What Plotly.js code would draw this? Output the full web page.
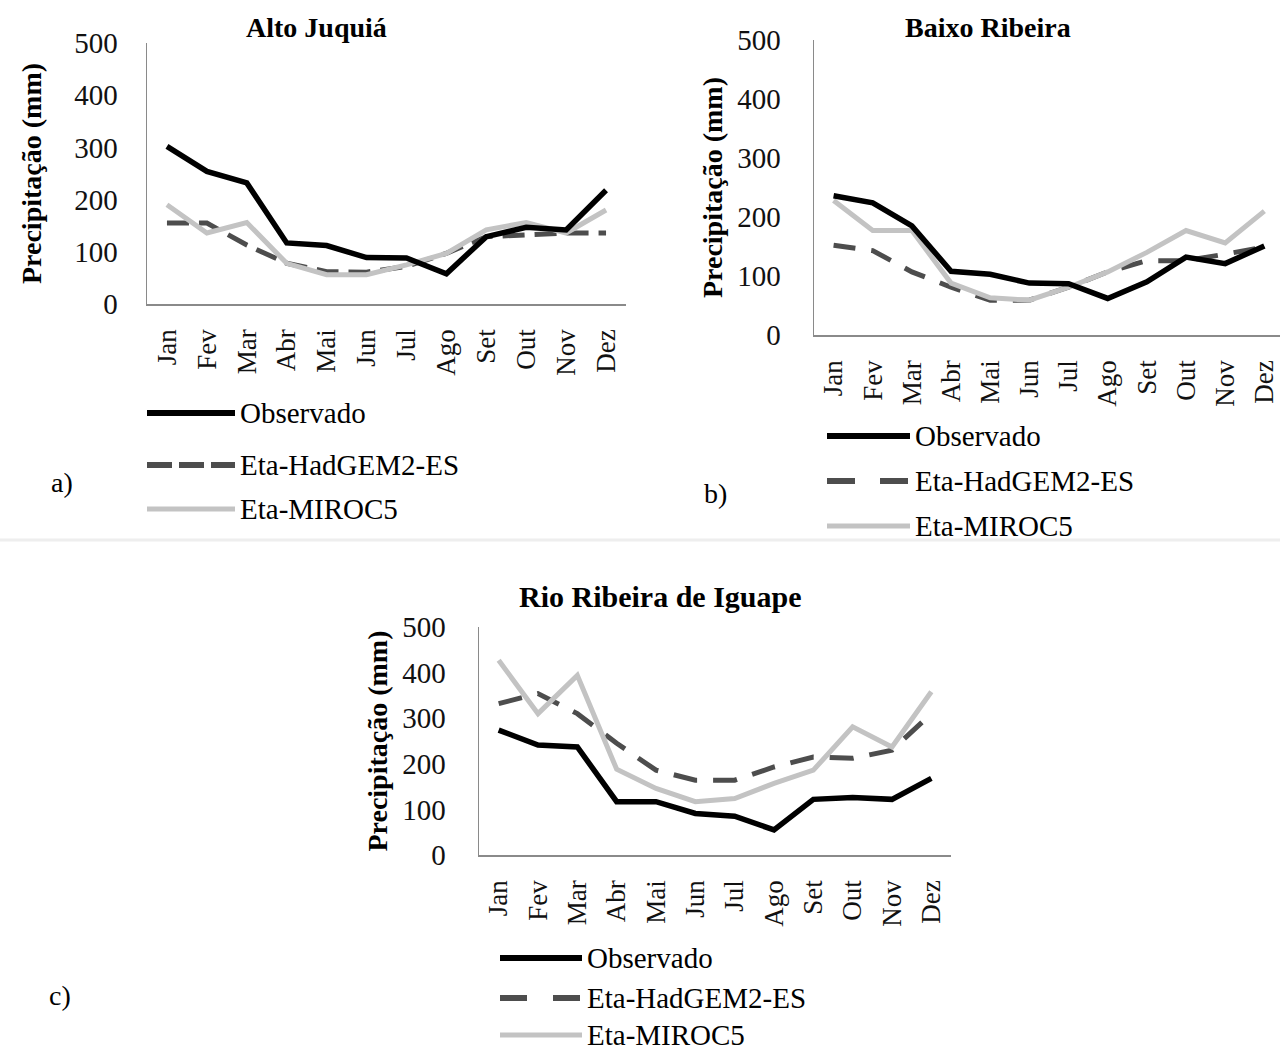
<!DOCTYPE html>
<html>
<head>
<meta charset="utf-8">
<script src="https://cdn.plot.ly/plotly-3.0.1.min.js"></script>
<style>html,body{margin:0;padding:0;background:#fff;}#chart{width:1280px;height:1055px;}</style>
</head>
<body>
<div id="chart"></div>
<script>
const months = ["Jan","Fev","Mar","Abr","Mai","Jun","Jul","Ago","Set","Out","Nov","Dez"];
const seriesNames = ["Observado","Eta-HadGEM2-ES","Eta-MIROC5"];
const panelTitles = ["Alto Juquiá","Baixo Ribeira","Rio Ribeira de Iguape"];
const panelLabels = ["a)","b)","c)"];
const yTitle = "Precipitação (mm)";

// a) Alto Juquiá
const altoObs    = [302,254,232,117,112,89,88,58,129,147,142,218];
const altoHad    = [155,155,113,78,62,61,72,97,129,133,136,136];
const altoMiroc  = [190,136,156,78,56,56,75,97,142,156,136,180];
// b) Baixo Ribeira
const baixoObs   = [236,224,185,108,103,88,87,62,90,132,121,151];
const baixoHad   = [152,143,107,81,59,59,81,107,126,126,137,149];
const baixoMiroc = [228,177,177,88,63,59,81,107,140,177,156,210];
// c) Rio Ribeira de Iguape
const rioObs     = [274,241,237,117,117,91,85,55,122,126,122,168];
const rioHad     = [332,354,310,245,186,164,164,193,215,212,230,310];
const rioMiroc   = [427,310,394,188,146,117,124,157,186,281,237,358];

const W = 1280, H = 1055;
const px = x => x / W;
const py = y => 1 - y / H;
const serif = "Liberation Serif, Times New Roman, serif";
const colObs = "#000000", colHad = "#4d4d4d", colMiroc = "#c3c3c3";

const panels = [
  {obs: altoObs, had: altoHad, miroc: altoMiroc, xd:[147,626], yd:[304,43], xr:[-0.5,11.5], dash:"22px,10px",
   title:[316,27], tsize:28, legX:[147,235], legY:[413,465,509], lab:[62,483], legDash:"25px,7px",
   tstand:22, ystand:24},
  {obs: baixoObs, had: baixoHad, miroc: baixoMiroc, xd:[814,1280], yd:[335,40], xr:[-0.5,11.4], dash:"22px,16px",
   title:[988,27], tsize:28, legX:[827,910], legY:[436,481,526], lab:[715,494], legDash:"28px,25px",
   tstand:26, ystand:6},
  {obs: rioObs, had: rioHad, miroc: rioMiroc, xd:[479,951], yd:[855,627], xr:[-0.5,11.5], dash:"24px,16px",
   title:[660,596], tsize:30, legX:[500,582], legY:[958,998,1035], lab:[60,995], legDash:"27px,26px",
   tstand:26, ystand:6}
];

const data = [];
const layout = {
  width: W, height: H,
  margin: {l:0, r:0, t:0, b:0},
  paper_bgcolor: "#fff", plot_bgcolor: "#fff",
  showlegend: false,
  font: {family: serif, color: "#000"},
  shapes: [], annotations: []
};

panels.forEach((p, i) => {
  const n = i === 0 ? "" : String(i + 1);
  const xa = "x" + n, ya = "y" + n;
  data.push({x: months, y: p.had, xaxis: xa, yaxis: ya, type: "scatter", mode: "lines", name: seriesNames[1],
    line: {color: colHad, width: 5, dash: p.dash}});
  data.push({x: months, y: p.miroc, xaxis: xa, yaxis: ya, type: "scatter", mode: "lines", name: seriesNames[2],
    line: {color: colMiroc, width: 5}});
  data.push({x: months, y: p.obs, xaxis: xa, yaxis: ya, type: "scatter", mode: "lines", name: seriesNames[0],
    line: {color: colObs, width: 5.5}});

  layout["xaxis" + n] = {
    domain: [px(p.xd[0]), px(p.xd[1])], anchor: ya, type: "category",
    categoryorder: "array", categoryarray: months, range: p.xr,
    showline: true, linecolor: "#8a8a8a", linewidth: 1.5, showgrid: false, zeroline: false,
    ticks: "", tickangle: -90, ticklabelstandoff: 13,
    tickfont: {family: serif, size: 27, color: "#111"}
  };
  layout["yaxis" + n] = {
    domain: [py(p.yd[0]), py(p.yd[1])], anchor: xa, range: [0, 500],
    tickvals: [0,100,200,300,400,500],
    showline: true, linecolor: "#8a8a8a", linewidth: 1.5, showgrid: false, zeroline: false,
    ticks: "", ticklabelstandoff: p.tstand,
    tickfont: {family: serif, size: 29, color: "#111"},
    title: {text: "<b>" + yTitle + "</b>", font: {family: serif, size: 28, color: "#000"}, standoff: p.ystand}
  };

  layout.annotations.push({xref: "paper", yref: "paper", x: px(p.title[0]), y: py(p.title[1]),
    text: "<b>" + panelTitles[i] + "</b>", showarrow: false, xanchor: "center", yanchor: "middle",
    font: {family: serif, size: p.tsize, color: "#000"}});
  layout.annotations.push({xref: "paper", yref: "paper", x: px(p.lab[0]), y: py(p.lab[1]),
    text: panelLabels[i], showarrow: false, xanchor: "center", yanchor: "middle",
    font: {family: serif, size: 28, color: "#000"}});

  const legStyles = [
    {color: colObs, width: 6, dash: "solid"},
    {color: colHad, width: 6, dash: p.legDash},
    {color: colMiroc, width: 5, dash: "solid"}
  ];
  seriesNames.forEach((s, k) => {
    layout.shapes.push({type: "line", xref: "paper", yref: "paper",
      x0: px(p.legX[0]), x1: px(p.legX[1]), y0: py(p.legY[k]), y1: py(p.legY[k]),
      line: legStyles[k]});
    layout.annotations.push({xref: "paper", yref: "paper", x: px(p.legX[1] + 3), y: py(p.legY[k]),
      text: s, showarrow: false, xanchor: "left", yanchor: "middle",
      font: {family: serif, size: 29, color: "#000"}});
  });
});

// faint separator between rows
layout.shapes.push({type: "line", xref: "paper", yref: "paper", x0: 0, x1: 1, y0: py(540), y1: py(540),
  line: {color: "#eeeeee", width: 3}});

Plotly.newPlot("chart", data, layout, {displayModeBar: false, staticPlot: true});
</script>
</body>
</html>
